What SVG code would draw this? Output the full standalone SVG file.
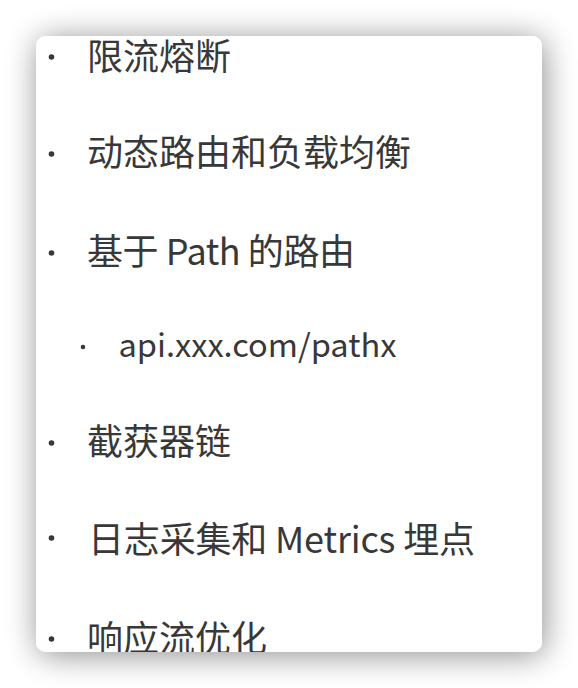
<svg xmlns="http://www.w3.org/2000/svg" width="578" height="688" viewBox="0 0 578 688">
  <defs>
    <filter id="shadow" x="-20%" y="-20%" width="140%" height="140%">
      <feGaussianBlur in="SourceAlpha" stdDeviation="16"/>
      <feOffset dx="2" dy="3" result="b"/>
      <feComponentTransfer><feFuncA type="linear" slope="0.45"/></feComponentTransfer>
      <feMerge><feMergeNode/><feMergeNode in="SourceGraphic"/></feMerge>
    </filter>
    <clipPath id="cardClip"><rect x="36" y="36" width="506" height="616" rx="10"/></clipPath>
  </defs>
  <style>
    .t { font-family: "Noto Sans CJK SC", "Noto Sans", sans-serif; font-size: 36px; fill: #383838; }
    .s { font-family: "Noto Sans CJK SC", "Noto Sans", sans-serif; font-size: 32px; fill: #383838; }
    .d { fill: #383838; }
  </style>
  <rect width="578" height="688" fill="#ffffff"/>
  <rect id="card" x="36" y="36" width="506" height="616" rx="10" fill="#ffffff" filter="url(#shadow)"/>
  <g clip-path="url(#cardClip)">
    <g id="item1"><circle class="d" cx="51.5" cy="57" r="2.8"/><text class="t" x="87" y="70">限流熔断</text></g>
    <g id="item2"><circle class="d" cx="51.5" cy="154" r="2.8"/><text class="t" x="87" y="166">动态路由和负载均衡</text></g>
    <g id="item3"><circle class="d" cx="51.5" cy="253" r="2.8"/><text class="t" x="87" y="265" textLength="268" lengthAdjust="spacing">基于 Path 的路由</text></g>
    <g id="item3a"><circle class="d" cx="83" cy="347" r="2.3"/><text class="s" x="118.5" y="357" textLength="278" lengthAdjust="spacingAndGlyphs">api.xxx.com/pathx</text></g>
    <g id="item4"><circle class="d" cx="51.5" cy="443" r="2.8"/><text class="t" x="87" y="455">截获器链</text></g>
    <g id="item5"><circle class="d" cx="51.5" cy="538" r="2.8"/><text class="t" x="88" y="553" textLength="387" lengthAdjust="spacing">日志采集和 Metrics 埋点</text></g>
    <g id="item6"><circle class="d" cx="51.5" cy="639" r="2.8"/><text class="t" x="87" y="652">响应流优化</text></g>
  </g>
  <g id="connectors"/>
</svg>
